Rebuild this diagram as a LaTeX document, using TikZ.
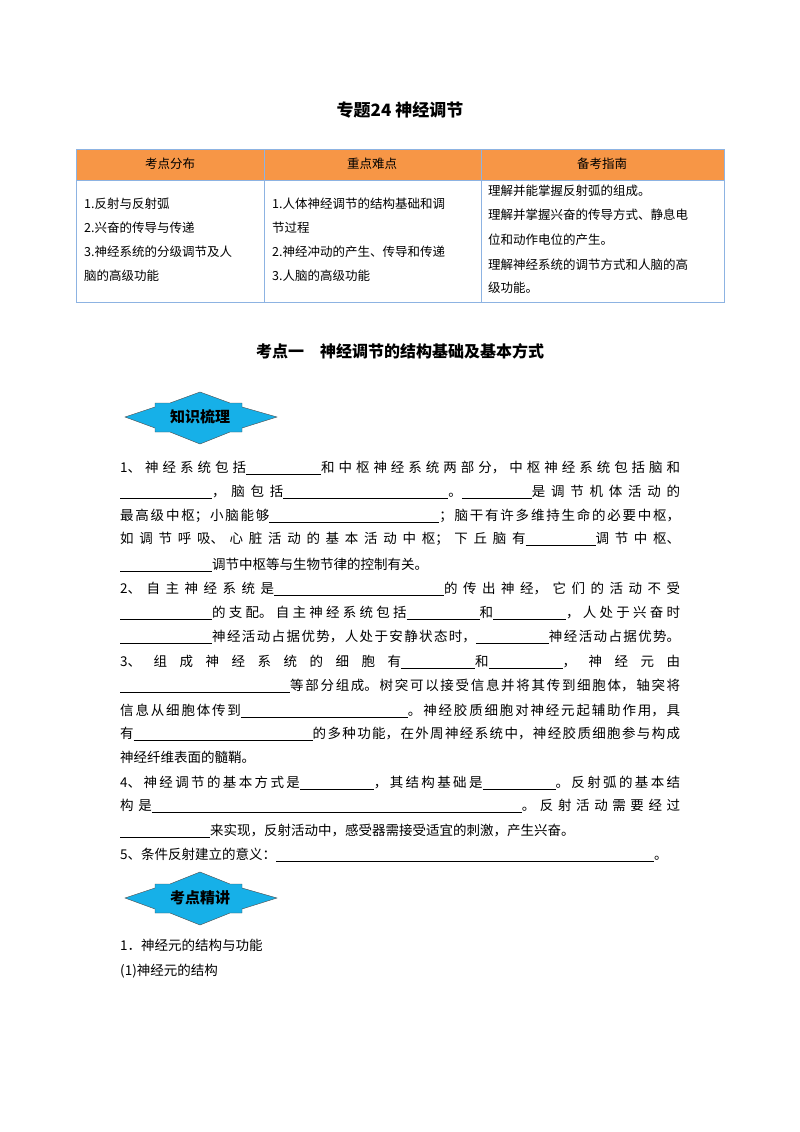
\documentclass[tikz,border=0pt]{standalone}
\usepackage{fontspec}
\setmainfont{Noto Sans CJK SC}
\usepackage{xcolor}
\definecolor{headorange}{RGB}{247,150,70}
\definecolor{tableblue}{RGB}{141,179,226}
\definecolor{badgeblue}{RGB}{22,176,232}
\XeTeXlinebreaklocale "zh"
\XeTeXlinebreakskip=0pt plus 2pt
\newcommand{\blank}[1]{\rule[-2pt]{#1pt}{0.5pt}}
\newcommand{\fullline}[1]{\parbox[b]{560pt}{\parindent=0pt\parfillskip=0pt\relax #1}}
\tikzset{
  body/.style={anchor=base west,inner sep=0pt,font=\fontsize{13.5}{16}\selectfont},
  cell/.style={anchor=base west,inner sep=0pt,font=\fontsize{12.5}{15}\selectfont},
  badge/.style={draw=black!70,fill=badgeblue,line width=0.4pt}
}
\begin{document}
\begin{tikzpicture}[x=1pt,y=-1pt]
  \useasboundingbox (0,0) rectangle (800,1132);

  \node[font=\fontsize{17}{20}\bfseries] (title) at (400,110) {专题24 神经调节};

  % table
  \fill[headorange] (76,149) rectangle (724,180);
  \draw[tableblue,line width=1pt] (76,149) rectangle (724,302);
  \draw[tableblue,line width=1pt] (76,180) -- (724,180);
  \draw[tableblue,line width=1pt] (264,149) -- (264,302);
  \draw[tableblue,line width=1pt] (481,149) -- (481,302);
  \node[font=\fontsize{12.5}{15}\selectfont] (h1) at (170,164) {考点分布};
  \node[font=\fontsize{12.5}{15}\selectfont] (h2) at (372,164) {重点难点};
  \node[font=\fontsize{12.5}{15}\selectfont] (h3) at (602,164) {备考指南};
  \node[cell] (a1) at (84,208) {1.反射与反射弧};
  \node[cell] (a2) at (84,232) {2.兴奋的传导与传递};
  \node[cell] (a3) at (84,256) {3.神经系统的分级调节及人};
  \node[cell] (a4) at (84,280) {脑的高级功能};
  \node[cell] (b1) at (272,208) {1.人体神经调节的结构基础和调};
  \node[cell] (b2) at (272,232) {节过程};
  \node[cell] (b3) at (272,256) {2.神经冲动的产生、传导和传递};
  \node[cell] (b4) at (272,280) {3.人脑的高级功能};
  \node[cell] (c1) at (488,195) {理解并能掌握反射弧的组成。};
  \node[cell] (c2) at (488,219) {理解并掌握兴奋的传导方式、静息电};
  \node[cell] (c3) at (488,244) {位和动作电位的产生。};
  \node[cell] (c4) at (488,269) {理解神经系统的调节方式和人脑的高};
  \node[cell] (c5) at (488,292) {级功能。};

  \node[font=\fontsize{16}{20}\bfseries] (sec) at (400,351) {考点一\quad 神经调节的结构基础及基本方式};

  % first badge
  \draw[badge] (125,417) -- (155,407) -- (155,403) -- (170,403) -- (200,392) -- (230,403)
    -- (242,403) -- (242,407) -- (277,417) -- (242,428) -- (242,432) -- (230,432)
    -- (200,444) -- (170,432) -- (155,432) -- (155,428) -- cycle;
  \node[font=\fontsize{15}{18}\bfseries] (badge1) at (200,417) {知识梳理};

  \node[body] (l1) at (120,472) {\fullline{1、神经系统包括\blank{75}和中枢神经系统两部分，中枢神经系统包括脑和}};
  \node[body] (l2) at (120,496) {\fullline{\blank{92}，脑包括\blank{165}。\blank{70}是调节机体活动的}};
  \node[body] (l3) at (120,520) {\fullline{最高级中枢；小脑能够\blank{170}；脑干有许多维持生命的必要中枢，}};
  \node[body] (l4) at (120,543) {\fullline{如调节呼吸、心脏活动的基本活动中枢；下丘脑有\blank{70}调节中枢、}};
  \node[body] (l5) at (120,569) {\blank{92}调节中枢等与生物节律的控制有关。};
  \node[body] (l6) at (120,593) {\fullline{2、自主神经系统是\blank{170}的传出神经，它们的活动不受}};
  \node[body] (l7) at (120,617) {\fullline{\blank{92}的支配。自主神经系统包括\blank{73}和\blank{73}，人处于兴奋时}};
  \node[body] (l8) at (120,641) {\fullline{\blank{92}神经活动占据优势，人处于安静状态时，\blank{73}神经活动占据优势。}};
  \node[body] (l9) at (120,666) {\fullline{3、组成神经系统的细胞有\blank{74}和\blank{74}，神经元由}};
  \node[body] (l10) at (120,690) {\fullline{\blank{170}等部分组成。树突可以接受信息并将其传到细胞体，轴突将}};
  \node[body] (l11) at (120,715) {\fullline{信息从细胞体传到\blank{167}。神经胶质细胞对神经元起辅助作用，具}};
  \node[body] (l12) at (120,738) {\fullline{有\blank{179}的多种功能，在外周神经系统中，神经胶质细胞参与构成}};
  \node[body] (l13) at (120,762) {神经纤维表面的髓鞘。};
  \node[body] (l14) at (120,787) {\fullline{4、神经调节的基本方式是\blank{74}，其结构基础是\blank{73}。反射弧的基本结}};
  \node[body] (l15) at (120,810) {\fullline{构是\blank{370}。反射活动需要经过}};
  \node[body] (l16) at (120,835) {\blank{90}来实现，反射活动中，感受器需接受适宜的刺激，产生兴奋。};
  \node[body] (l17) at (120,859) {5、条件反射建立的意义：\blank{378}。};

  % second badge
  \draw[badge] (125,898) -- (155,888) -- (155,884) -- (170,884) -- (200,872) -- (230,884)
    -- (242,884) -- (242,888) -- (277,898) -- (242,909) -- (242,913) -- (230,913)
    -- (200,925) -- (170,913) -- (155,913) -- (155,909) -- cycle;
  \node[font=\fontsize{15}{18}\bfseries] (badge2) at (200,898) {考点精讲};

  \node[body] (p1) at (120,950) {1．神经元的结构与功能};
  \node[body] (p2) at (120,975) {(1)神经元的结构};
\end{tikzpicture}
\end{document}
